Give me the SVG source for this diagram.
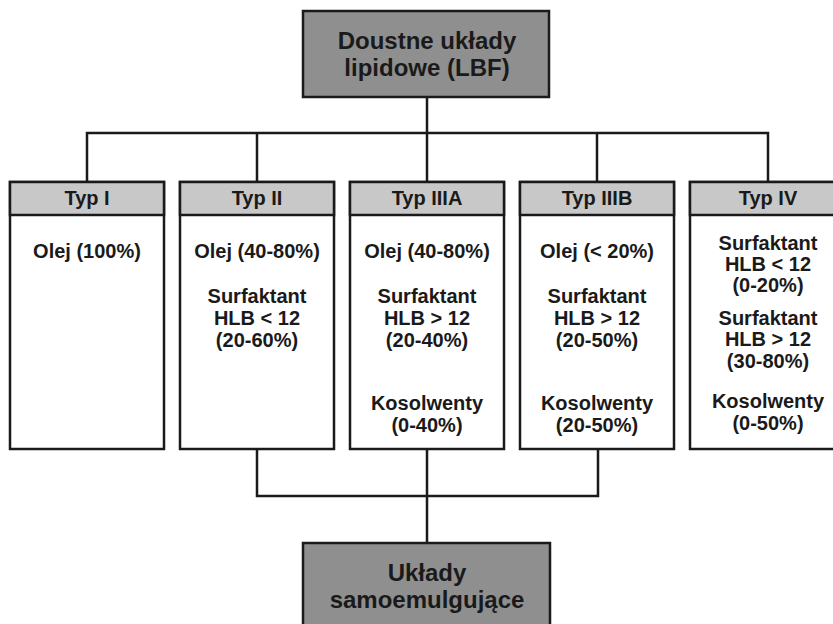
<svg xmlns="http://www.w3.org/2000/svg" width="833" height="624" viewBox="0 0 833 624">
<style>
.t{font-family:"Liberation Sans",Arial,sans-serif;font-weight:bold;font-size:20px;fill:#1a1a1a;text-anchor:middle}
.big{font-size:24px}
.box{fill:#fff;stroke:#1a1a1a;stroke-width:2.5}
.hdr{fill:#c8c8c8;stroke:#1a1a1a;stroke-width:2.5}
.main{fill:#8f8f8f;stroke:#1a1a1a;stroke-width:2.5}
.con{fill:none;stroke:#1a1a1a;stroke-width:2.5}
</style>
<rect width="833" height="624" fill="#fff"/>
<g id="connectors">
<path class="con" d="M427 97V133M87 182V133H768V182M257 133V182M427 133V182M597 133V182"/>
<path class="con" d="M257 449V496H598V449M427 449V543"/>
</g>
<g id="top">
<rect class="main" x="303" y="11" width="246" height="86"/>
<text class="t big" x="427" y="49">Doustne układy</text>
<text class="t big" x="427" y="76">lipidowe (LBF)</text>
</g>
<g id="typ1">
<rect class="box" x="10" y="182" width="154" height="267"/>
<rect class="hdr" x="10" y="182" width="154" height="33"/>
<text class="t" x="87" y="205">Typ I</text>
<text class="t" x="87" y="258">Olej (100%)</text>
</g>
<g id="typ2">
<rect class="box" x="180" y="182" width="154" height="267"/>
<rect class="hdr" x="180" y="182" width="154" height="33"/>
<text class="t" x="257" y="205">Typ II</text>
<text class="t" x="257" y="258">Olej (40-80%)</text>
<text class="t" x="257" y="303">Surfaktant</text>
<text class="t" x="257" y="325">HLB &lt; 12</text>
<text class="t" x="257" y="347">(20-60%)</text>
</g>
<g id="typ3a">
<rect class="box" x="350" y="182" width="154" height="267"/>
<rect class="hdr" x="350" y="182" width="154" height="33"/>
<text class="t" x="427" y="205">Typ IIIA</text>
<text class="t" x="427" y="258">Olej (40-80%)</text>
<text class="t" x="427" y="303">Surfaktant</text>
<text class="t" x="427" y="325">HLB &gt; 12</text>
<text class="t" x="427" y="347">(20-40%)</text>
<text class="t" x="427" y="410">Kosolwenty</text>
<text class="t" x="427" y="432">(0-40%)</text>
</g>
<g id="typ3b">
<rect class="box" x="520" y="182" width="154" height="267"/>
<rect class="hdr" x="520" y="182" width="154" height="33"/>
<text class="t" x="597" y="205">Typ IIIB</text>
<text class="t" x="597" y="258">Olej (&lt; 20%)</text>
<text class="t" x="597" y="303">Surfaktant</text>
<text class="t" x="597" y="325">HLB &gt; 12</text>
<text class="t" x="597" y="347">(20-50%)</text>
<text class="t" x="597" y="410">Kosolwenty</text>
<text class="t" x="597" y="432">(20-50%)</text>
</g>
<g id="typ4">
<rect class="box" x="690" y="182" width="154" height="267"/>
<rect class="hdr" x="690" y="182" width="154" height="33"/>
<text class="t" x="768" y="205">Typ IV</text>
<text class="t" x="768" y="250">Surfaktant</text>
<text class="t" x="768" y="271">HLB &lt; 12</text>
<text class="t" x="768" y="292">(0-20%)</text>
<text class="t" x="768" y="325">Surfaktant</text>
<text class="t" x="768" y="346">HLB &gt; 12</text>
<text class="t" x="768" y="368">(30-80%)</text>
<text class="t" x="768" y="408">Kosolwenty</text>
<text class="t" x="768" y="430">(0-50%)</text>
</g>
<g id="bottom">
<rect class="main" x="303" y="543" width="247" height="90"/>
<text class="t big" x="427" y="581">Układy</text>
<text class="t big" x="427" y="608">samoemulgujące</text>
</g>
</svg>
